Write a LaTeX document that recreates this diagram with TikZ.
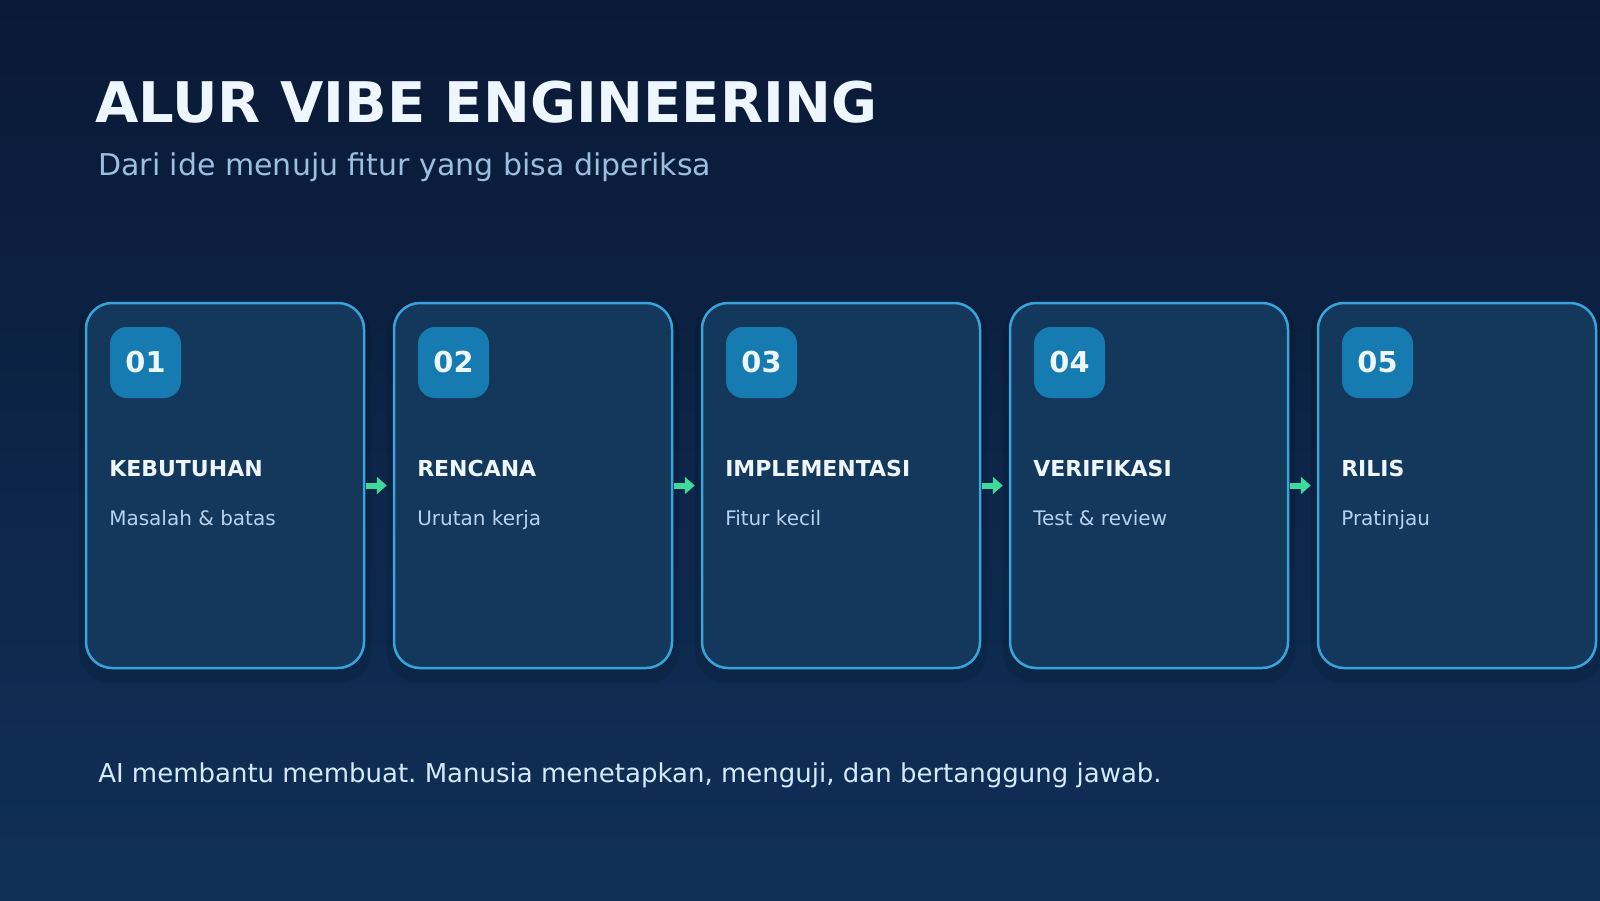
\documentclass[tikz,border=0pt]{standalone}
\usepackage{fontspec}
\setmainfont{DejaVu Sans}
\usepackage{tikz}
\usetikzlibrary{arrows.meta,positioning}
\frenchspacing
\newcommand{\pxu}{0.75pt}
\definecolor{bgtop}{RGB}{10,25,54}
\definecolor{bgbot}{RGB}{16,48,88}
\definecolor{cardfill}{RGB}{20,55,92}
\definecolor{cardline}{RGB}{56,164,218}
\definecolor{badgefill}{RGB}{21,123,176}
\definecolor{flowgreen}{RGB}{61,218,155}
\definecolor{titlecol}{RGB}{238,247,255}
\definecolor{subcol}{RGB}{157,190,224}
\definecolor{desccol}{RGB}{181,211,238}
\definecolor{footcol}{RGB}{212,233,252}

\begin{document}
\begin{tikzpicture}[x=0.75pt, y=-0.75pt,
    card/.style={draw=cardline, line width=2.5*\pxu, fill=cardfill, rounded corners=26*\pxu, minimum width=278*\pxu, minimum height=365*\pxu, inner sep=0},
    shadowbox/.style={fill=black, opacity=0.09, rounded corners=30*\pxu, minimum width=292*\pxu, minimum height=379*\pxu, inner sep=0},
    badge/.style={fill=badgefill, rounded corners=17*\pxu, minimum size=71*\pxu, inner sep=0, text=titlecol, font=\fontsize{21.6pt}{26pt}\selectfont\bfseries},
    steptitle/.style={anchor=base west, inner sep=0, text=titlecol, font=\fontsize{16.5pt}{19pt}\selectfont\bfseries},
    stepdesc/.style={anchor=base west, inner sep=0, text=desccol, font=\fontsize{15pt}{18pt}\selectfont},
    flow/.style={draw=flowgreen, line width=6*\pxu, -{Triangle[length=10*\pxu, width=17*\pxu]}, shorten <=1*\pxu, shorten >=6*\pxu}]
        % Background
        \shade[top color=bgtop, bottom color=bgbot] (0,0) rectangle (1600,900);
        \useasboundingbox (0,0) rectangle (1600,900);

        % Heading
        \node[anchor=base west, inner sep=0, text=titlecol, font=\fontsize{42pt}{48pt}\selectfont\bfseries] (head) at (95,122) {ALUR VIBE ENGINEERING};
        \node[anchor=base west, inner sep=0, text=subcol, font=\fontsize{22.5pt}{27pt}\selectfont] (sub) at (98,175) {Dari ide menuju fitur yang bisa diperiksa};

        % Soft shadows under the cards
        \node[shadowbox] at (225,493) {};
        \node[shadowbox] at (533,493) {};
        \node[shadowbox] at (841,493) {};
        \node[shadowbox] at (1149,493) {};
        \node[shadowbox] at (1457,493) {};

        % Cards
        \node[card] (need) at (225,485.5) {};
        \node[card] (plan) at (533,485.5) {};
        \node[card] (impl) at (841,485.5) {};
        \node[card] (verif) at (1149,485.5) {};
        \node[card] (rel) at (1457,485.5) {};

        % Number badges
        \node[badge] (b1) at (145.5,362.5) {01};
        \node[badge] (b2) at (453.5,362.5) {02};
        \node[badge] (b3) at (761.5,362.5) {03};
        \node[badge] (b4) at (1069.5,362.5) {04};
        \node[badge] (b5) at (1377.5,362.5) {05};

        % Step names and notes
        \node[steptitle] (t1) at (109,476) {KEBUTUHAN};
        \node[stepdesc] (d1) at (109,525) {Masalah \& batas};
        \node[steptitle] (t2) at (417,476) {RENCANA};
        \node[stepdesc] (d2) at (417,525) {Urutan kerja};
        \node[steptitle] (t3) at (725,476) {IMPLEMENTASI};
        \node[stepdesc] (d3) at (725,525) {Fitur kecil};
        \node[steptitle] (t4) at (1033,476) {VERIFIKASI};
        \node[stepdesc] (d4) at (1033,525) {Test \& review};
        \node[steptitle] (t5) at (1341,476) {RILIS};
        \node[stepdesc] (d5) at (1341,525) {Pratinjau};

        % Flow arrows between cards
        \draw[flow] (need.east) -- (plan.west);
        \draw[flow] (plan.east) -- (impl.west);
        \draw[flow] (impl.east) -- (verif.west);
        \draw[flow] (verif.east) -- (rel.west);

        % Footer
        \node[anchor=base west, inner sep=0, text=footcol, font=\fontsize{19.5pt}{23pt}\selectfont] (foot) at (98,782) {AI membantu membuat. Manusia menetapkan, menguji, dan bertanggung jawab.};
    \end{tikzpicture}
\end{document}
